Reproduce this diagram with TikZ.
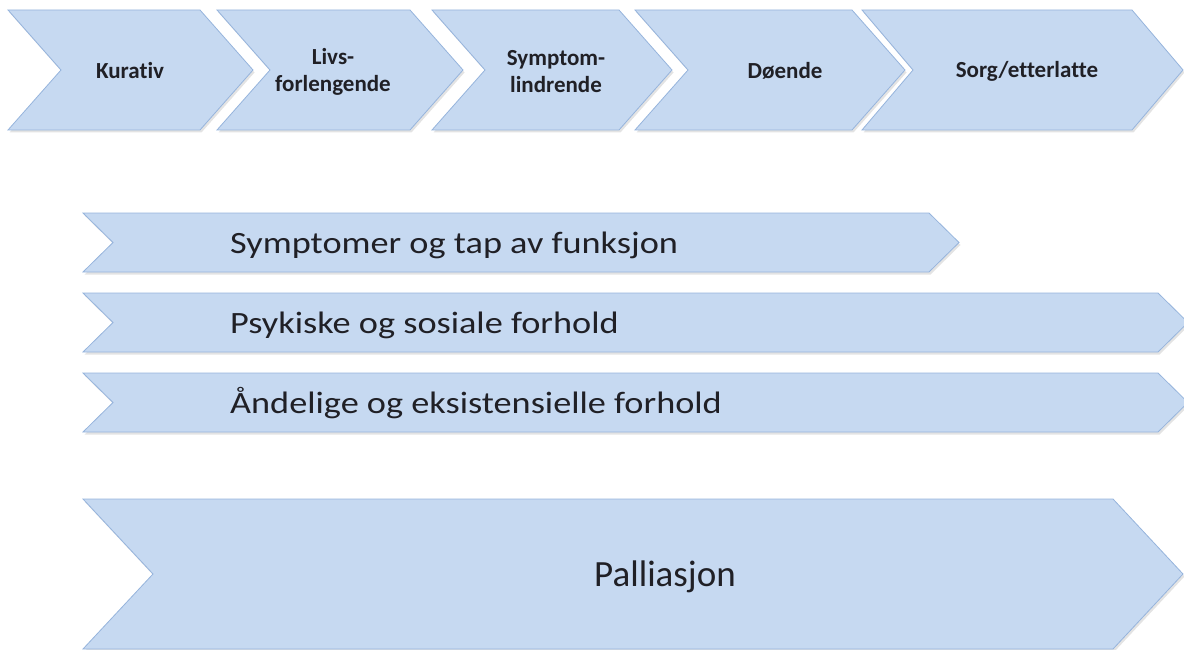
\documentclass[tikz,border=0pt]{standalone}
\usepackage{fontspec}
\setmainfont[Ligatures=NoCommon]{Carlito}
\newfontfamily\widefont[FakeStretch=1.17,Ligatures=NoCommon]{Carlito}
\usetikzlibrary{shadows}
\definecolor{chevfill}{RGB}{198,217,241}
\definecolor{chevline}{RGB}{150,180,220}
\definecolor{txt}{RGB}{32,32,38}
% chevron: left, tip x, top, bottom, point depth
\newcommand\chevshape[5]{%
  \path[band] (#1,#3) -- ({#2-#5},#3) -- (#2,{(#3+#4)/2}) -- ({#2-#5},#4)
    -- (#1,#4) -- ({#1+#5},{(#3+#4)/2}) -- cycle;}
\begin{document}
\begin{tikzpicture}[x=1pt,y=-1pt,
  band/.style={fill=chevfill, draw=chevline, line width=0.8pt, line join=miter,
    drop shadow={opacity=0.22, shadow xshift=1.5pt, shadow yshift=-2.5pt}},
  toplabel/.style={font=\fontsize{23}{27}\selectfont\bfseries, text=txt, align=center},
  rowlabel/.style={font=\widefont\fontsize{31}{36}\selectfont, text=txt, anchor=base west, inner sep=0pt},
  biglabel/.style={font=\fontsize{37}{40}\selectfont, text=txt, anchor=base, inner sep=0pt}]
\useasboundingbox (0,0) rectangle (1184,650);

% top process chevrons
\chevshape{8}{253}{10}{130}{53}
\chevshape{217}{463}{10}{130}{53}
\chevshape{432}{672}{10}{130}{53}
\chevshape{635}{905}{10}{130}{53}
\chevshape{862}{1183}{10}{130}{51}

\node[toplabel] (k1) at (130,71) {Kurativ};
\node[toplabel] (k2) at (333,72) {Livs-\\forlengende};
\node[toplabel] (k3) at (556,72) {Symptom-\\lindrende};
\node[toplabel] (k4) at (785,71) {Døende};
\node[toplabel] (k5) at (1027,71) {Sorg/etterlatte};

% dimension bands
\chevshape{83}{959}{213}{272}{30}
\chevshape{83}{1188}{293}{352}{30}
\chevshape{83}{1188}{373}{432}{30}

\node[rowlabel] (r1) at (230,253) {Symptomer og tap av funksjon};
\node[rowlabel] (r2) at (230,333) {Psykiske og sosiale forhold};
\node[rowlabel] (r3) at (230,413) {Åndelige og eksistensielle forhold};

% palliation band
\chevshape{83}{1183}{499}{649}{70}
\node[biglabel] (pal) at (665,586) {Palliasjon};
\end{tikzpicture}
\end{document}
